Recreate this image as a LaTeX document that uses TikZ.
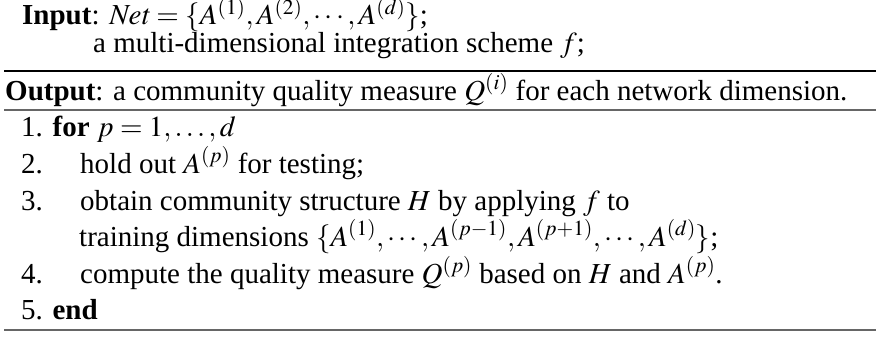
\documentclass[tikz,border=0pt]{standalone}
\usepackage{mathptmx}
\usepackage{fontspec}
\setmainfont{Liberation Serif}
\usetikzlibrary{positioning}
\tikzset{%
	txt/.style={anchor=base west, inner sep=0mm, font=\fontsize{29}{34}\selectfont},
	hrule/.style={line width=1.3pt},
	softrule/.style={line width=1.3pt, draw=black!60}
}
\begin{document}
\begin{tikzpicture}[x=1pt, y=-1pt]
	\useasboundingbox (0,0) rectangle (876,337);
	% input / output
	\node[txt] (in) at (22,25) {\textbf{Input}: $\mathit{Net}=\{A^{(1)},A^{(2)},\cdots,A^{(d)}\}$;};
	\node[txt] (in2) at (93,53) {a multi-dimensional integration scheme $f$;};
	\node[txt] (out) at (5,100) {\textbf{Output}: a community quality measure $Q^{(i)}$ for each network dimension.};
	% steps
	\node[txt] (s1) at (21,136) {1. \textbf{for} $p=1,\ldots,d$};
	\node[txt] (n2) at (21,173) {2.};
	\node[txt] (s2) at (80,173) {hold out $A^{(p)}$ for testing;};
	\node[txt] (n3) at (21,210) {3.};
	\node[txt] (s3) at (80,210) {obtain community structure $H$ by applying $f$ to};
	\node[txt] (s3b) at (79,246) {training dimensions $\{A^{(1)},\cdots,A^{(p-1)},A^{(p+1)},\cdots,A^{(d)}\}$;};
	\node[txt] (n4) at (21,283) {4.};
	\node[txt] (s4) at (80,283) {compute the quality measure $Q^{(p)}$ based on $H$ and $A^{(p)}$.};
	\node[txt] (s5) at (21,319) {5. \textbf{end}};
	% rules
	\coordinate (ra) at (4,71);   \coordinate (rb) at (876,71);
	\coordinate (rc) at (4,110);  \coordinate (rd) at (876,110);
	\coordinate (re) at (4,330);  \coordinate (rf) at (876,330);
	\draw[hrule] (ra) -- (rb);
	\draw[softrule] (rc) -- (rd);
	\draw[softrule] (re) -- (rf);
\end{tikzpicture}
\end{document}
